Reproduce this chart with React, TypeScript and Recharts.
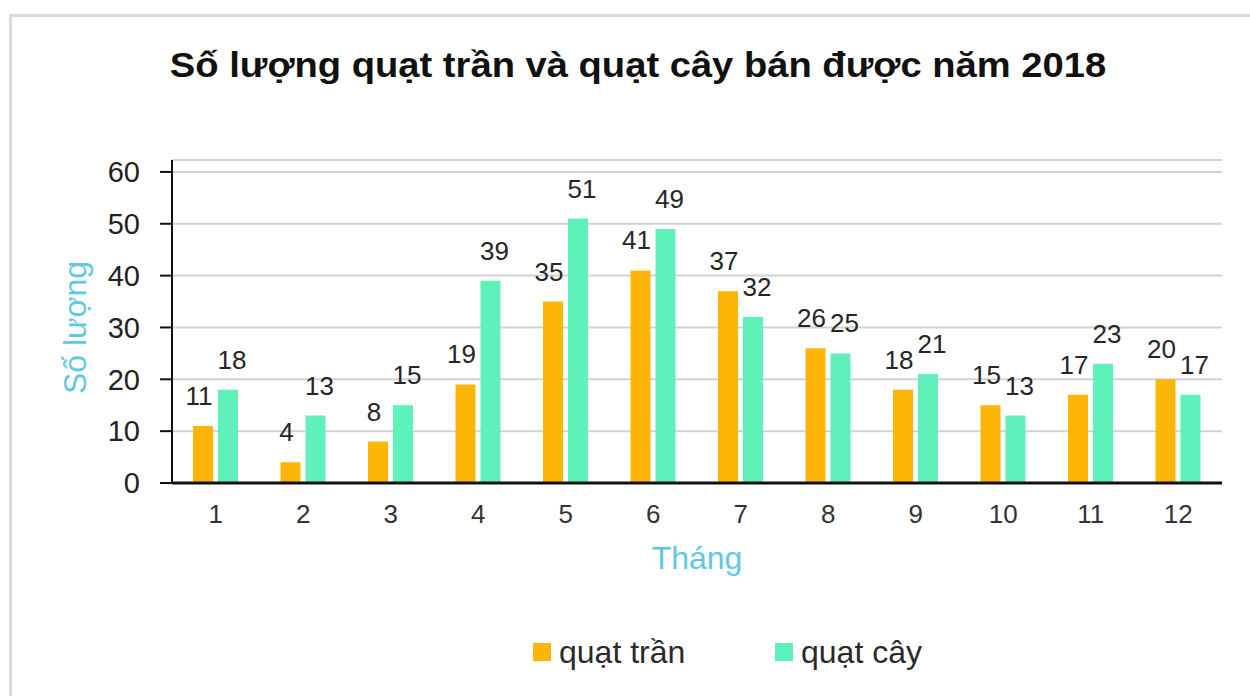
import React from 'react';
import { BarChart, Bar, XAxis, YAxis, CartesianGrid, LabelList, Legend, Label } from 'recharts';

const months = ['1', '2', '3', '4', '5', '6', '7', '8', '9', '10', '11', '12'];
const quatTran = [11, 4, 8, 19, 35, 41, 37, 26, 18, 15, 17, 20];
const quatCay = [18, 13, 15, 39, 51, 49, 32, 25, 21, 13, 23, 17];
const yTicks = [0, 10, 20, 30, 40, 50, 60];

const TITLE = 'Số lượng quạt trần và quạt cây bán được năm 2018';
const X_LABEL = 'Tháng';
const Y_LABEL = 'Số lượng';

const series = [
  { key: 'tran', name: 'quạt trần', color: '#FDB508', labelDx: -4 },
  { key: 'cay', name: 'quạt cây', color: '#5EF2BA', labelDx: 4 },
];

const data = months.map((m, i) => ({ month: m, tran: quatTran[i], cay: quatCay[i] }));

const FONT = '"Liberation Sans", Arial, sans-serif';
const AXIS_TITLE_COLOR = '#5FC9E3';

const LegendContent = () => (
  <div style={{ position: 'relative', height: 36, width: 1250, fontFamily: FONT }}>
    {series.map((s, i) => (
      <div
        key={s.key}
        style={{
          position: 'absolute',
          left: i === 0 ? 533 : 775,
          top: 0,
          height: 36,
          display: 'flex',
          alignItems: 'center',
        }}
      >
        <span style={{ display: 'inline-block', width: 18, height: 18, background: s.color, marginRight: 8 }} />
        <span style={{ fontSize: 32, color: '#2a2a2a', lineHeight: '36px' }}>{s.name}</span>
      </div>
    ))}
  </div>
);

export default function App() {
  return (
    <div style={{ position: 'absolute', left: 0, top: 0, width: 1250, height: 696, background: '#fff', fontFamily: FONT }}>
      <div
        style={{
          position: 'absolute',
          left: 9,
          top: 14,
          width: 1241,
          height: 682,
          borderTop: '3px solid #dadada',
          borderLeft: '3px solid #dadada',
          boxSizing: 'border-box',
        }}
      />
      <div
        style={{
          position: 'absolute',
          left: 13,
          top: 45,
          width: 1250,
          textAlign: 'center',
          fontSize: 35,
          lineHeight: '40px',
          fontWeight: 'bold',
          color: '#111',
          whiteSpace: 'nowrap',
          transform: 'scaleX(1.09)',
          transformOrigin: '625px 20px',
        }}
      >
        {TITLE}
      </div>
      <div style={{ position: 'absolute', left: 0, top: 0 }}>
        <BarChart
          width={1250}
          height={696}
          data={data}
          margin={{ top: 160, right: 28, bottom: 26, left: 102 }}
          barSize={20}
          barGap={5}
          style={{ fontFamily: FONT }}
        >
          <CartesianGrid vertical={false} stroke="#d2d2d2" strokeWidth={2} />
          <XAxis
            dataKey="month"
            height={151}
            tickLine={false}
            tickSize={0}
            tickMargin={22}
            axisLine={{ stroke: '#111', strokeWidth: 3 }}
            tick={{ fill: '#333', fontSize: 26 }}
            interval={0}
          >
            <Label
              content={(props: any) => {
                const vb = props.viewBox || {};
                return (
                  <text
                    x={vb.x + vb.width / 2}
                    y={vb.y + 75}
                    textAnchor="middle"
                    dominantBaseline="central"
                    fill={AXIS_TITLE_COLOR}
                    fontSize={32}
                    fontFamily={FONT}
                  >
                    {X_LABEL}
                  </text>
                );
              }}
            />
          </XAxis>
          <YAxis
            width={70}
            domain={[0, 62.3]}
            ticks={yTicks}
            interval={0}
            tickSize={12}
            tickMargin={20}
            tickLine={{ stroke: '#111', strokeWidth: 2 }}
            axisLine={{ stroke: '#111', strokeWidth: 2 }}
            tick={{ fill: '#222', fontSize: 29 }}
          >
            <Label
              content={(props: any) => {
                const vb = props.viewBox || {};
                const cx = vb.x - 27;
                const cy = vb.y + vb.height / 2 + 6;
                return (
                  <text
                    x={cx}
                    y={cy}
                    transform={`rotate(-90 ${cx} ${cy})`}
                    textAnchor="middle"
                    dominantBaseline="central"
                    fill={AXIS_TITLE_COLOR}
                    fontSize={32}
                    fontFamily={FONT}
                  >
                    {Y_LABEL}
                  </text>
                );
              }}
            />
          </YAxis>
          <Legend verticalAlign="bottom" wrapperStyle={{ left: 0, width: 1250 }} content={() => <LegendContent />} />
          {series.map((s) => (
            <Bar key={s.key} dataKey={s.key} name={s.name} fill={s.color} isAnimationActive={false}>
              <LabelList dataKey={s.key} position="top" offset={21} dx={s.labelDx} fill="#262626" fontSize={26} />
            </Bar>
          ))}
        </BarChart>
      </div>
    </div>
  );
}
